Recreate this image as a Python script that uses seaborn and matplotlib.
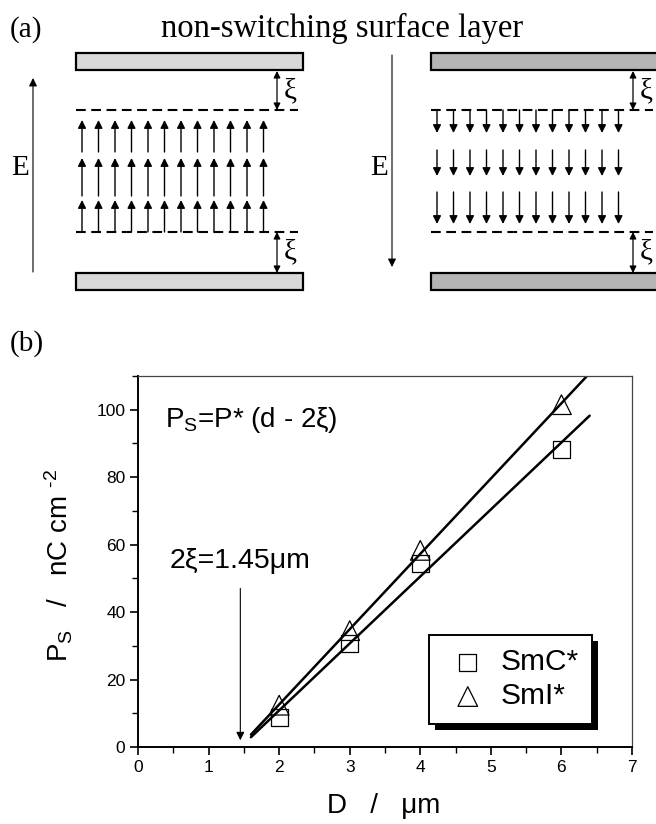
import numpy as np
import pandas as pd
import matplotlib
matplotlib.use("Agg")
import matplotlib.pyplot as plt
from matplotlib.patches import Rectangle
from matplotlib.transforms import IdentityTransform
from matplotlib.ticker import MultipleLocator
import seaborn as sns

# data
thickness = [2, 3, 4, 6]                 # D / um
ps_smc = [8.8, 30.8, 54.5, 88.3]         # SmC*
ps_smi = [12.4, 34.5, 58.3, 101.5]       # SmI*
phases = ["SmC*", "SmI*"]
fit_range = [1.6, 6.4]
xi_mark = 1.45
xticks = [0, 1, 2, 3, 4, 5, 6, 7]
yticks = [0, 20, 40, 60, 80, 100]

sns.set_style("ticks")
plt.rcParams["font.family"] = ["Liberation Sans", "DejaVu Sans"]
plt.rcParams["mathtext.fontset"] = "custom"
plt.rcParams["mathtext.rm"] = "Liberation Sans"
plt.rcParams["mathtext.it"] = "Liberation Sans:italic"
plt.rcParams["lines.scale_dashes"] = False
plt.rcParams["axes.unicode_minus"] = False
for key in ("text.color", "axes.labelcolor", "xtick.color", "ytick.color"):
    plt.rcParams[key] = "k"

SERIF = ["Liberation Serif", "DejaVu Serif"]

fig = plt.figure(figsize=(6.56, 8.24), dpi=100)

# ---------------- panel (a): schematic, drawn in pixel units ----------------
axa = fig.add_axes([0, 1 - 300 / 824, 1, 300 / 824])
axa.set_xlim(0, 656)
axa.set_ylim(300, 0)
axa.axis("off")

axa.text(10, 37, "(a)", family=SERIF, fontsize=21, va="baseline")
axa.text(342, 37, "non-switching surface layer", family=SERIF, fontsize=23.5,
         ha="center", va="baseline")


def arrow(ax, x0, y0, x1, y1, style="-|>", lw=0.9, ms=11):
    ax.annotate("", xy=(x1, y1), xytext=(x0, y0),
                arrowprops=dict(arrowstyle=style, lw=lw, color="k",
                                mutation_scale=ms, shrinkA=0, shrinkB=0))


def cell(ax, left, width, fill, up, e_x, e_tip, e_tail, cols_x0, gap_x):
    for y in (53, 273):
        ax.add_patch(Rectangle((left, y), width, 17, fc=fill, ec="k", lw=1.6))
    for y in (110, 232):
        ax.plot([left, left + 222], [y, y], color="k", lw=1.5,
                ls=(0, (7, 4)))
    xs = cols_x0 + 16.5 * np.arange(12)
    rows = [(232, 200), (196, 158), (152, 120)] if up else \
           [(110, 133), (150, 176), (192, 224)]
    for x in xs:
        for y0, y1 in rows:
            arrow(ax, x, y0, x, y1, lw=1.0, ms=12)
    arrow(ax, gap_x, 71, gap_x, 110, style="<|-|>", lw=0.9, ms=10)
    arrow(ax, gap_x, 232, gap_x, 273, style="<|-|>", lw=0.9, ms=10)
    for y in (91, 252):
        ax.text(gap_x + 7, y, "ξ", family=SERIF, fontsize=21, va="center")
    arrow(ax, e_x, e_tail, e_x, e_tip, lw=0.8, ms=12)
    ax.text(e_x - 4, 168, "E", family=SERIF, fontsize=21, ha="right",
            va="center")


cell(axa, 76, 227, "#d9d9d9", True, 33, 78, 272, 82, 277)
cell(axa, 431, 240, "#b5b5b5", False, 392, 267, 55, 437, 633)

# ---------------- panel (b): Ps versus thickness ----------------
fig.text(10 / 656, 1 - 351 / 824, "(b)", family=SERIF, fontsize=21,
         va="baseline")

ax = fig.add_axes([138 / 656, 1 - 747 / 824, 494 / 656, 371 / 824])

df = pd.DataFrame({
    "D": thickness * 2,
    "Ps": ps_smc + ps_smi,
    "phase": [phases[0]] * 4 + [phases[1]] * 4,
})

for phase, marker, size in zip(phases, ["s", "^"], [150, 200]):
    sub = df[df["phase"] == phase]
    slope, icpt = np.polyfit(sub["D"], sub["Ps"], 1)
    xf = np.array(fit_range)
    sns.lineplot(x=xf, y=slope * xf + icpt, color="k", lw=1.8, ax=ax)
    sns.scatterplot(x="D", y="Ps", data=sub, marker=marker, s=size,
                    facecolor="none", edgecolor="k", linewidth=0.9,
                    label=phase, ax=ax, zorder=3)

ax.annotate("", xy=(xi_mark, 2), xytext=(xi_mark, 47),
            arrowprops=dict(arrowstyle="-|>", lw=0.8, color="k",
                            mutation_scale=12, shrinkA=0, shrinkB=0))
ax.text(0.45, 55, "2ξ=1.45μm", fontsize=20.5, va="center")
ax.text(0.38, 95, r"P$_\mathregular{S}$=P* (d - 2ξ)", fontsize=20,
        va="baseline")

ax.set_xlim(0, 7)
ax.set_ylim(0, 110)
ax.set_xticks(xticks)
ax.set_yticks(yticks)
ax.xaxis.set_minor_locator(MultipleLocator(0.5))
ax.yaxis.set_minor_locator(MultipleLocator(10))
ax.tick_params(which="major", direction="out", length=6, width=1.2,
               labelsize=12.5, pad=3, color="k")
ax.tick_params(which="minor", direction="out", length=4, width=1.0,
               color="k")
for side in ("left", "bottom"):
    ax.spines[side].set_linewidth(1.4)
    ax.spines[side].set_color("k")
for side in ("top", "right"):
    ax.spines[side].set_linewidth(0.9)
    ax.spines[side].set_color("#444444")

ax.set_xlabel("D   /   μm", fontsize=20)
ax.set_ylabel("P$_\\mathregular{S}$   /   nC cm $^\\mathregular{\u20102}$",
              fontsize=20)
ax.xaxis.set_label_coords(0.498, -0.125)
ax.yaxis.set_label_coords(-0.128, 0.49)

leg = ax.legend(loc="upper left", bbox_to_anchor=(0.589, 0.302),
                borderaxespad=0, fontsize=21.5, frameon=True, fancybox=False,
                framealpha=1, edgecolor="k", handlelength=1.7,
                handletextpad=0.25, borderpad=0.45, labelspacing=0.2)
leg.get_frame().set_linewidth(1.4)
leg.set_zorder(6)

fig.canvas.draw()
bb = leg.get_window_extent()
ax.add_patch(Rectangle((bb.x0 + 6, bb.y0 - 6), bb.width, bb.height,
                       fc="k", ec="none", transform=IdentityTransform(),
                       zorder=5.5, clip_on=False))

fig.savefig("out.png", dpi=100)
